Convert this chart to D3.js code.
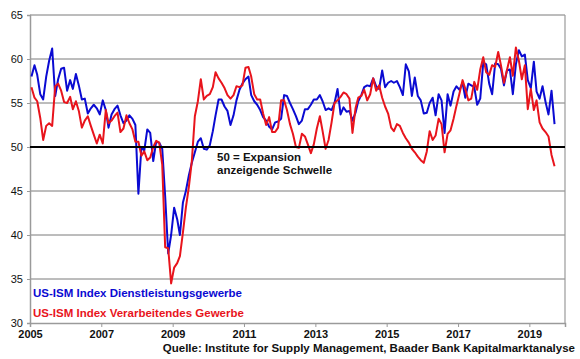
<!DOCTYPE html>
<html><head><meta charset="utf-8">
<script src="https://cdnjs.cloudflare.com/ajax/libs/d3/7.8.5/d3.min.js"></script>
<style>
html,body{margin:0;padding:0;background:#fff;}
svg text{font-family:"Liberation Sans",Arial,sans-serif;}
</style></head>
<body><svg id="c" width="580" height="359"></svg>
<script>
const startYear = 2005;
const services = [
58.0,59.3,58.2,56.0,55.4,58.0,59.8,61.2,55.8,57.7,58.9,59.0,
56.4,57.6,56.6,58.3,57.0,55.4,55.5,53.8,54.4,54.8,54.4,53.7,
55.3,54.2,52.2,53.7,54.3,54.7,53.6,52.7,53.0,53.6,53.2,52.5,
44.7,50.0,49.6,52.0,51.6,48.4,50.6,50.5,49.8,44.4,37.9,40.0,
43.1,41.8,40.0,43.7,45.0,46.8,48.2,49.4,50.6,51.0,49.8,49.7,
50.2,51.8,53.6,55.4,55.4,54.6,54.1,52.5,53.6,55.3,56.5,57.2,
57.7,58.0,55.9,55.2,54.8,54.2,53.4,53.0,52.3,52.0,52.8,52.9,
53.2,55.9,55.8,55.0,54.3,53.5,52.6,53.0,54.3,54.3,54.8,55.4,
55.4,55.9,55.2,54.2,54.4,54.2,55.0,56.6,53.7,54.5,54.0,54.1,
53.0,53.9,55.2,55.9,56.8,57.0,56.9,57.8,56.9,56.6,58.7,56.8,
57.3,57.5,57.3,57.5,56.8,55.9,59.4,58.6,55.8,57.9,55.8,55.3,
53.8,53.9,55.0,55.6,53.6,56.0,55.3,51.6,56.0,54.7,56.3,56.9,
56.5,57.3,55.6,57.2,57.0,56.8,54.8,55.5,59.6,59.4,57.2,56.0,
59.5,59.4,58.9,57.0,58.7,58.8,56.0,59.4,61.0,60.3,60.5,57.6,
56.7,59.7,56.3,55.5,56.9,55.1,53.7,56.4,52.6];
const manufacturing = [
56.8,55.6,55.2,53.3,50.8,52.4,52.7,52.4,56.9,57.2,56.4,55.1,
55.0,55.7,54.3,55.2,54.1,52.2,53.0,53.5,52.4,51.4,50.4,51.4,
50.4,54.2,52.7,53.0,53.5,53.9,51.7,52.1,53.6,52.7,52.0,50.6,
50.6,49.0,49.5,48.5,48.8,50.0,50.7,50.5,48.0,38.6,38.5,34.5,
36.3,36.8,37.6,40.3,43.1,45.5,48.4,53.5,55.2,57.7,55.4,55.8,
56.0,56.8,58.5,57.8,57.3,56.7,55.9,55.5,55.9,56.9,56.8,57.0,
59.0,59.1,58.0,56.0,55.4,55.4,53.8,52.5,53.4,51.7,51.7,52.2,
55.3,55.3,54.2,52.6,51.5,50.0,49.9,51.5,51.2,50.3,49.3,50.3,
52.1,53.5,51.8,49.8,50.8,52.8,55.0,55.3,55.7,56.2,56.0,55.5,
51.6,54.4,55.6,55.8,56.5,55.3,56.0,57.8,56.4,57.0,55.6,54.6,
53.8,52.2,51.8,52.6,52.4,51.6,51.0,50.5,49.8,49.4,48.9,48.5,
48.2,49.5,51.8,50.8,51.3,53.2,52.6,49.4,51.5,51.9,53.2,54.7,
56.1,57.6,56.6,55.3,55.5,57.4,56.5,58.8,60.2,58.5,58.2,59.3,
59.1,60.8,59.3,57.3,58.7,60.2,58.1,61.3,59.8,57.7,59.3,54.3,
56.6,54.2,55.3,52.8,52.1,51.7,51.2,49.1,47.8];
const yTicks = [30,35,40,45,50,55,60,65];
const xTickYears = [2005,2007,2009,2011,2013,2015,2017,2019];
const seriesNames = ["US-ISM Index Dienstleistungsgewerbe","US-ISM Index Verarbeitendes Gewerbe"];
const thresholdLabel = ["50 = Expansion","anzeigende Schwelle"];
const sourceText = "Quelle: Institute for Supply Management, Baader Bank Kapitalmarktanalyse";

const svg = d3.select("#c");
const L=30, R=565, T=15, B=323;
const x = d3.scaleTime().domain([new Date(2005,0,1), new Date(2020,0,1)]).range([L,R]);
const y = d3.scaleLinear().domain([30,65]).range([B,T]);
const dateOf = i => new Date(startYear, i, 16);

// gridlines
svg.append("g").selectAll("line").data(yTicks.filter(v=>v!==30 && v!==50)).join("line")
  .attr("x1",L).attr("x2",R).attr("y1",d=>y(d)).attr("y2",d=>y(d))
  .attr("stroke","#7a7a7a").attr("stroke-width",1);
// right border
svg.append("line").attr("x1",R).attr("x2",R).attr("y1",T).attr("y2",B).attr("stroke","#9a9a9a").attr("stroke-width",1.2);

// axes
const yAxis = d3.axisLeft(y).tickValues(yTicks).tickSize(3).tickFormat(d3.format("d"));
const gy = svg.append("g").attr("transform",`translate(${L},0)`).call(yAxis);
gy.select(".domain").attr("stroke","#9a9a9a").attr("stroke-width",1.5);
gy.selectAll(".tick line").attr("stroke","#9a9a9a");
gy.selectAll("text").attr("x",-7).attr("font-size","11px").attr("fill","#111").style("font-family","Liberation Sans, Arial");

const xAxis = d3.axisBottom(x).tickValues(xTickYears.map(yv=>new Date(yv,0,1))).tickSize(4).tickFormat(d3.timeFormat("%Y"));
const gx = svg.append("g").attr("transform",`translate(0,${B})`).call(xAxis);
gx.select(".domain").attr("stroke","#9a9a9a").attr("stroke-width",1.5);
gx.selectAll(".tick line").attr("stroke","#9a9a9a");
gx.selectAll("text").attr("y",7).attr("font-size","11px").attr("font-weight","bold").attr("fill","#111");

// series lines
const line = d3.line().x((d,i)=>x(dateOf(i))).y(d=>y(d));
svg.append("path").datum(services).attr("d",line).attr("fill","none").attr("stroke","#0a0ad2").attr("stroke-width",2).attr("stroke-linejoin","round");
svg.append("path").datum(manufacturing).attr("d",line).attr("fill","none").attr("stroke","#e8141c").attr("stroke-width",2).attr("stroke-linejoin","round");

// threshold line at 50
svg.append("line").attr("x1",L).attr("x2",R).attr("y1",y(50)).attr("y2",y(50)).attr("stroke","#000").attr("stroke-width",2);

// annotation
svg.append("g").selectAll("text").data(thresholdLabel).join("text")
  .attr("x",217).attr("y",(d,i)=>161+i*13).attr("font-size","11.5px").attr("font-weight","bold").attr("fill","#111").text(d=>d);

// legend
const colors = ["#0a0ad2","#e8141c"];
svg.append("g").selectAll("text").data(seriesNames).join("text")
  .attr("x",33).attr("y",(d,i)=>297+i*20).attr("font-size","11.5px").attr("font-weight","bold").attr("fill",(d,i)=>colors[i]).text(d=>d);

// source
svg.append("text").attr("x",575).attr("y",352).attr("text-anchor","end").attr("font-size","11.5px").attr("font-weight","bold").attr("fill","#111").text(sourceText);
</script></body></html>
